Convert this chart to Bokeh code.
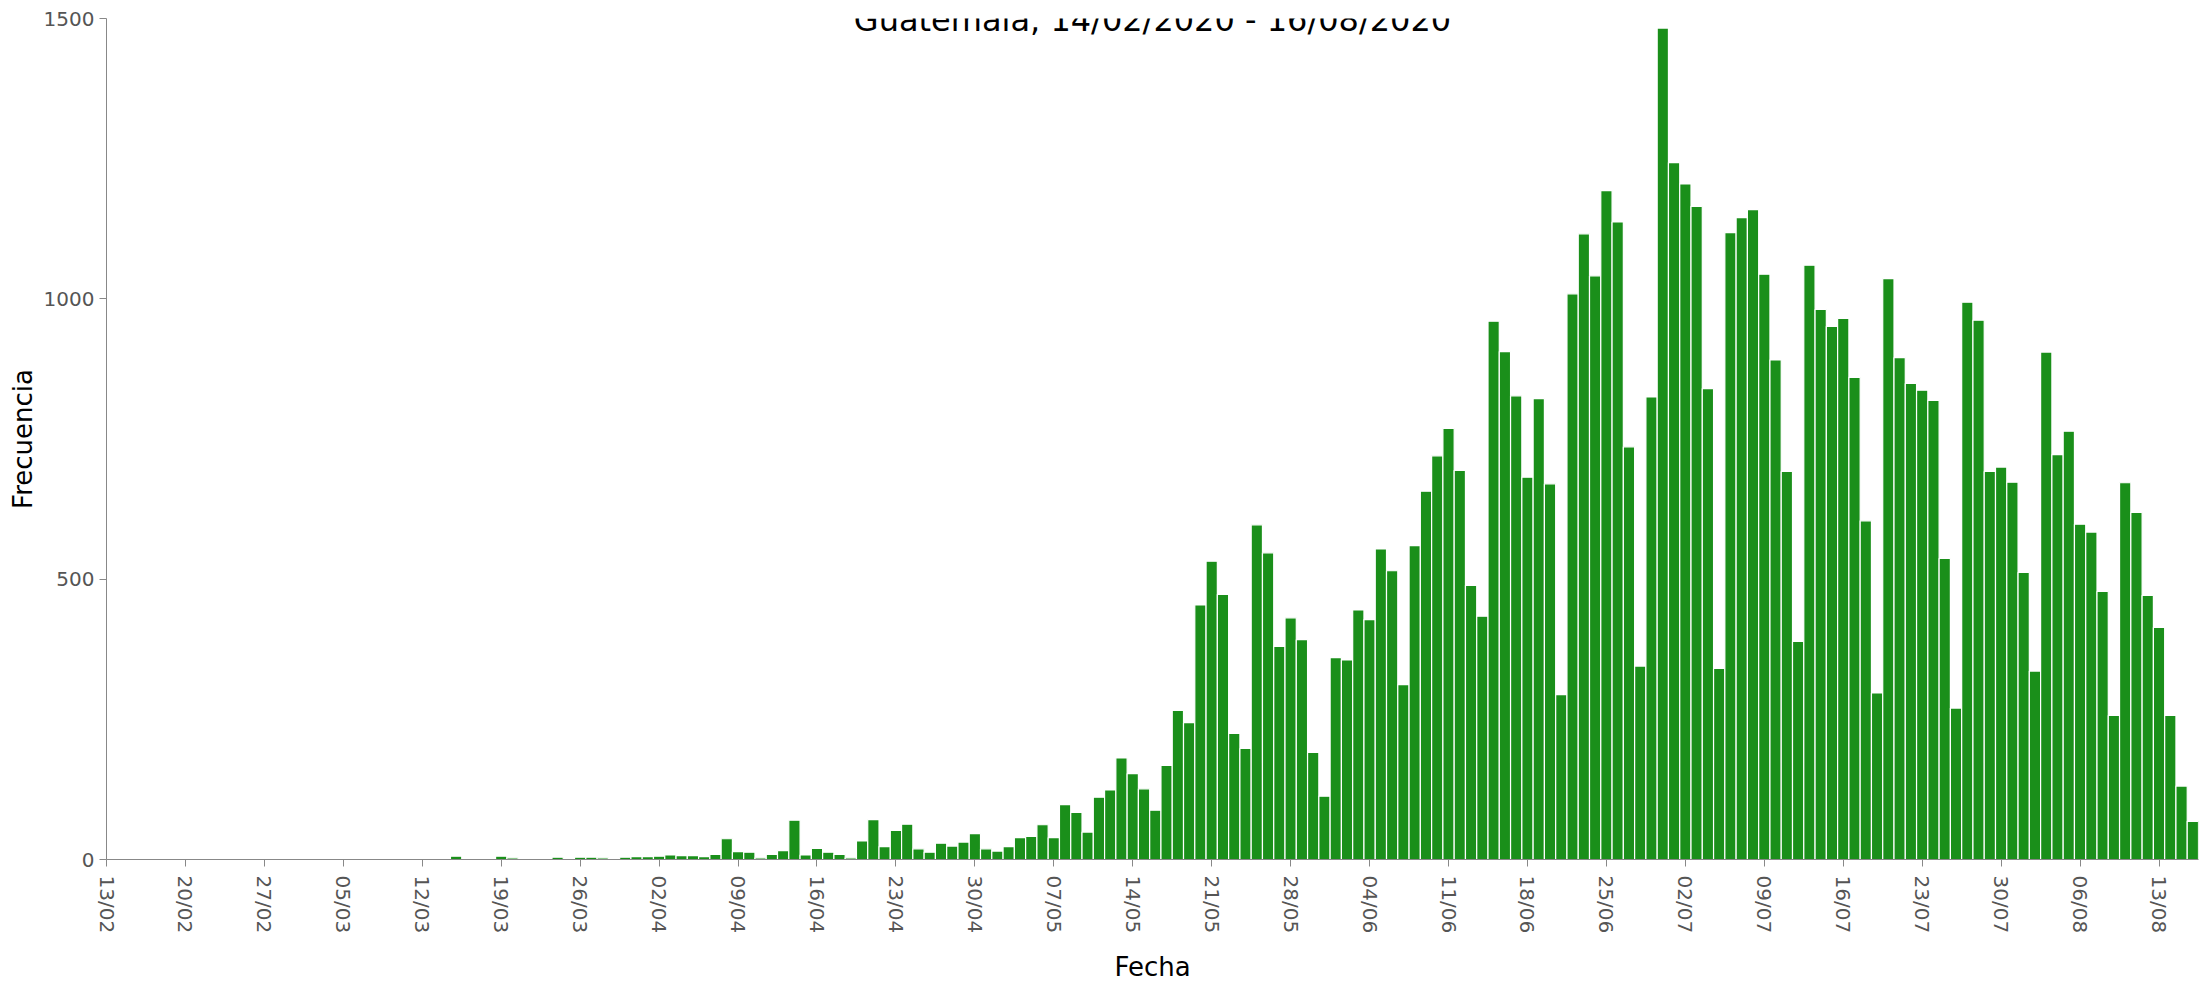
import pandas as pd
from bokeh.plotting import figure
from bokeh.models import Range1d, FixedTicker, DatetimeTickFormatter, Label
from bokeh.embed import file_html
from bokeh.resources import INLINE

# ---- data ----
start_date = "2020-02-14"
end_date = "2020-08-16"
feb = [0, 1] + [0] * 14                      # 14/02 .. 29/02
mar = [0] * 12 + [1, 1, 6, 0, 2, 2, 6, 3, 0, 2, 0, 4, 0, 4, 4, 3, 0, 4, 5]
apr = [5, 6, 8, 7, 7, 5, 9, 37, 14, 13, 3, 9, 16, 70, 8, 20, 13, 9, 3, 33,
       71, 23, 52, 63, 19, 13, 29, 24, 31, 46]
may = [19, 15, 23, 39, 41, 62, 39, 98, 84, 49, 111, 124, 181, 153, 126, 88,
       168, 266, 244, 454, 532, 473, 225, 198, 597, 547, 380, 431, 392, 191, 113]
jun = [360, 356, 445, 428, 554, 515, 312, 560, 657, 720, 769, 694, 489, 434,
       960, 906, 827, 682, 822, 670, 294, 1009, 1116, 1041, 1193, 1137, 736,
       345, 825, 1483]
jul = [1243, 1205, 1165, 840, 341, 1118, 1145, 1159, 1044, 891, 692, 389,
       1060, 981, 951, 965, 860, 604, 297, 1036, 895, 849, 837, 819, 537, 270,
       994, 962, 692, 700, 673]
aug = [512, 336, 905, 722, 764, 598, 584, 478, 257, 672, 619, 471, 414, 257,
       131, 68]
frecuencia = feb + mar + apr + may + jun + jul + aug
fechas = pd.date_range(start_date, end_date, freq="D")

tick_dates = pd.date_range("2020-02-13", "2020-08-13", freq="7D")
y_ticks = [0, 500, 1000, 1500]
title_text = "Guatemala, 14/02/2020 - 16/08/2020"
x_label = "Fecha"
y_label = "Frecuencia"

# ---- figure ----
DAY = 86400000
x_start = pd.Timestamp("2020-02-13")
x_end = pd.Timestamp(end_date) + pd.Timedelta(hours=12)

p = figure(width=2199, height=985, output_backend="svg", toolbar_location=None,
           x_axis_type="datetime",
           x_range=Range1d(x_start, x_end), y_range=Range1d(0, 1500),
           min_border_left=106, min_border_right=1, min_border_top=18,
           min_border_bottom=123)
p.outline_line_color = None
p.grid.visible = False
p.background_fill_color = "white"

p.vbar(x=fechas, top=frecuencia, width=DAY, bottom=0,
       fill_color="#1a8f1a", line_color="white", line_width=1.2)

font = "DejaVu Sans"
for ax in (p.xaxis[0], p.yaxis[0]):
    ax.axis_line_color = "#888888"
    ax.major_tick_line_color = "#888888"
    ax.major_tick_out = 7
    ax.major_tick_in = 0
    ax.minor_tick_out = 0
    ax.minor_tick_in = 0
    ax.major_label_text_font = font
    ax.major_label_text_font_size = "20px"
    ax.major_label_text_color = "#555555"
    ax.axis_label_text_font = font
    ax.axis_label_text_font_size = "26px"
    ax.axis_label_text_font_style = "normal"
    ax.axis_label_text_color = "black"

p.xaxis.ticker = FixedTicker(ticks=[t.value // 10**6 for t in tick_dates])
p.xaxis.formatter = DatetimeTickFormatter(days="%d/%m", months="%d/%m",
                                          hours="%d/%m", years="%d/%m")
p.xaxis.major_label_orientation = "vertical"
p.xaxis.major_label_standoff = 9
p.xaxis.axis_label = x_label
p.xaxis.axis_label_standoff = 16

p.yaxis.ticker = FixedTicker(ticks=y_ticks)
p.yaxis.major_label_standoff = 5
p.yaxis.axis_label = y_label
p.yaxis.axis_label_standoff = 3

mid = x_start + (x_end - x_start) / 2
p.add_layout(Label(x=mid, y=1500, y_offset=-1, text=title_text,
                   text_align="center", text_baseline="alphabetic",
                   text_font=font, text_font_size="32px", text_color="black"))

open("out.html", "w").write(file_html(p, INLINE))
